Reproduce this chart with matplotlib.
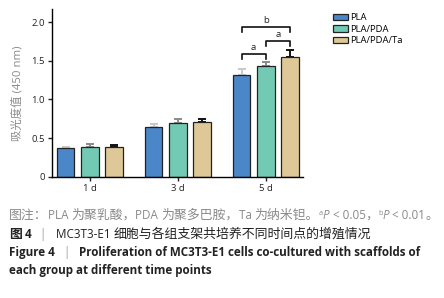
import matplotlib
matplotlib.use("Agg")
import matplotlib.pyplot as plt
from matplotlib.patches import Patch
import numpy as np

plt.rcParams['font.family'] = ['Open Sans', 'Noto Sans CJK SC', 'DejaVu Sans']

categories = ["1 d", "3 d", "5 d"]
groups = ["PLA", "PLA/PDA", "PLA/PDA/Ta"]
means = {
    "PLA": [0.365, 0.645, 1.31],
    "PLA/PDA": [0.385, 0.69, 1.43],
    "PLA/PDA/Ta": [0.385, 0.705, 1.545],
}
errs = {
    "PLA": [0.025, 0.04, 0.08],
    "PLA/PDA": [0.035, 0.06, 0.05],
    "PLA/PDA/Ta": [0.03, 0.045, 0.10],
}
yticks = [0, 0.5, 1.0, 1.5, 2.0]
yticklabels = ["0", "0.5", "1.0", "1.5", "2.0"]
colors = ["#4a86c8", "#72c9b4", "#dfc897"]
err_colors = ["#c8c8c8", "#8a8a8a", "#111111"]

fig = plt.figure(figsize=(4.44, 2.98), dpi=100)
ax = fig.add_axes([0.117, 0.407, 0.565, 0.563])

x = np.arange(len(categories))
w = 0.2
offs = [-0.275, 0.0, 0.275]
for i, g in enumerate(groups):
    xs = x + offs[i]
    ax.bar(xs, means[g], width=w, color=colors[i], edgecolor="#222222", linewidth=0.9, zorder=2)
    ax.errorbar(xs, means[g], yerr=[np.zeros(3), errs[g]], fmt="none",
                ecolor=err_colors[i], elinewidth=1.4, capsize=3, capthick=1.4, zorder=1)

ax.set_xlim(-0.43, 2.42)
ax.set_ylim(0, 2.17)
ax.set_xticks(x)
ax.set_xticklabels(categories, fontsize=6.8)
ax.set_yticks(yticks)
ax.set_yticklabels(yticklabels, fontsize=6.8)
for s in ["top", "right"]:
    ax.spines[s].set_visible(False)
for s in ["left", "bottom"]:
    ax.spines[s].set_linewidth(1.0)
ax.tick_params(axis="both", length=3, width=1.0, pad=2, colors="#222222")
ax.set_ylabel("吸光度值 (450 nm)", fontsize=8.2, color="#8a8a8a", labelpad=6)

# significance brackets
def bracket(x1, x2, y, label, h=0.07):
    ax.plot([x1, x1, x2, x2], [y - h, y, y, y - h], color="#111111", lw=1.2, clip_on=False)
    ax.text((x1 + x2) / 2, y + 0.02, label, ha="center", va="bottom", fontsize=6.8, color="#222222")

bracket(2 - 0.275, 2.0, 1.59, "a")
bracket(2.0, 2.275, 1.76, "a")
bracket(2 - 0.275, 2.275, 1.94, "b")

handles = [Patch(facecolor=c, edgecolor="#222222", linewidth=0.9) for c in colors]
fig.legend(handles, groups, loc="upper left", bbox_to_anchor=(0.75, 0.955), frameon=False,
           fontsize=6.8, handlelength=1.6, handleheight=0.7, handletextpad=0.2, labelspacing=0.25,
           borderaxespad=0, borderpad=0)

# caption with runs
renderer = fig.canvas.get_renderer()
LAT = ['Open Sans', 'DejaVu Sans']
CJK = ['Noto Sans CJK SC', 'DejaVu Sans']

def is_cjk(c):
    return ord(c) >= 0x2E80

def split_runs(s):
    out = []
    for c in s:
        k = is_cjk(c)
        if out and out[-1][1] == k:
            out[-1][0] += c
        else:
            out.append([c, k])
    return out

def runs(x0, y0, parts, fs=8.4, cfs=9.3):
    xpx = x0 * fig.bbox.width
    for s, kw in parts:
        kw = dict(kw)
        dy = kw.pop("dy", 0)
        size = kw.pop("fontsize", None)
        for seg, k in split_runs(s):
            t = fig.text(xpx / fig.bbox.width, y0 + dy, seg, va="baseline", ha="left",
                         family=CJK if k else LAT,
                         fontsize=size if size else (cfs if k else fs), **kw)
            xpx += t.get_window_extent(renderer).width

g = "#8a8a8a"
d = "#222222"
runs(0.02, 0.265, [
    ("图注：PLA 为聚乳酸，PDA 为聚多巴胺，Ta 为纳米钽。", dict(color=g)),
    ("a", dict(fontsize=5.2, color=g, dy=0.012)),
    ("P", dict(color=g, style="italic")),
    (" < 0.05，", dict(color=g)),
    ("b", dict(fontsize=5.2, color=g, dy=0.012)),
    ("P", dict(color=g, style="italic")),
    (" < 0.01。", dict(color=g)),
])
runs(0.02, 0.202, [
    ("图 4", dict(color=d, weight="bold")),
    ("   |   ", dict(color="#999999")),
    ("MC3T3-E1 细胞与各组支架共培养不同时间点的增殖情况", dict(color=d)),
])
runs(0.02, 0.14, [
    ("Figure 4", dict(color=d, weight="bold")),
    ("   |   ", dict(color="#999999")),
    ("Proliferation of MC3T3-E1 cells co-cultured with scaffolds of", dict(color=d, weight="bold")),
])
runs(0.02, 0.08, [
    ("each group at different time points", dict(color=d, weight="bold")),
])

fig.savefig("out.png", dpi=100)
